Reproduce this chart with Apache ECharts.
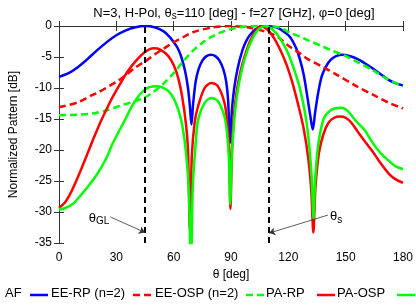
<!DOCTYPE html>
<html><head><meta charset="utf-8">
<script src="https://cdn.jsdelivr.net/npm/echarts@6/dist/echarts.min.js"></script>
<style>html,body{margin:0;padding:0;background:#fff}#c{width:416px;height:306px}</style>
</head><body><div id="c"></div>
<script>
// ---- data (theta in deg, pattern in dB) ----
const afTheta = [0,5,10,15,20,25,30,35,40,45,50,55,58,60,62,64,66,67.5,68.5,69.3,70.2,71.5,73,75,77,79.5,82,84,86,87.5,88.5,89.5,90.5,91.7,93.5,96,98,100,103,106,109,112,115,118,121,124,126,128,130,131.5,132.8,134,135.5,137.5,140,142,145,148.5,152,156,160,164,168,172,176,180];
const afDb    = [-8.2,-7.6,-6.6,-5.3,-3.9,-2.6,-1.5,-0.7,-0.2,0,-0.2,-0.9,-1.8,-2.6,-3.5,-5.0,-7.3,-10,-13,-15.9,-12.5,-9,-7,-5.6,-4.9,-4.65,-4.9,-5.6,-7,-9,-12,-18.8,-13.5,-10,-6.8,-3.9,-2.4,-1.4,-0.5,-0.1,0,-0.1,-0.4,-1.0,-1.8,-3.5,-5.3,-7.8,-11.5,-14.5,-16.7,-14,-11,-8.1,-6.4,-5.5,-4.85,-4.65,-4.85,-5.3,-6,-6.8,-7.7,-8.6,-9.2,-9.6];

const eeRpTheta = [0,10,17.6,20,30,33,40,46,50,55,60,65,70,80,90,100,110,115,121,126,130,138,145,155.6,165,172,180];
const eeRpDb    = [-13.1,-12.3,-11.1,-10.8,-9.0,-8.4,-6.7,-5.5,-4.6,-3.6,-2.6,-1.8,-1.0,-0.25,0,-0.3,-1.1,-1.9,-3.4,-4.4,-5.3,-6.6,-7.8,-9.7,-11.2,-12.3,-13.3];

const eeOspTheta = [0,10,17.6,25,31.6,38,45,50,55,60,65,70,75,80,85,90,95,100,105,110,115,121,126,131,138,143,148.6,156,164,172,180];
const eeOspDb    = [-14.4,-14.3,-14.1,-13.6,-12.9,-12.3,-11.5,-10.5,-9.2,-7.6,-5.7,-4.0,-2.7,-1.7,-1.0,-0.5,-0.2,-0.05,0,0,-0.2,-1.1,-1.7,-2.4,-3.3,-4.0,-4.65,-5.8,-7.1,-8.6,-9.7];

const paRpTheta = [0,3,6,9,12,15,18,21,24,27,30,33,36,40,45,49.5,53,57.3,60,62.4,64.5,66.5,67.5,68.5,69.5,71,72.8,76.2,79.7,83.1,86.6,88,89,89.7,90.5,91.5,93,95,97,99,101,103,105.5,108,110,113,116,119,122,125,128,130.5,132,133.1,134.2,136,138.3,141,144,147,150,153,156,160,164,168,172.8,176,180];
const paRpDb    = [-29.3,-28.5,-27.0,-25.0,-22.8,-20.5,-18.2,-16.0,-14.0,-12.1,-10.4,-8.8,-7.3,-5.7,-4.2,-3.6,-3.8,-4.9,-6.3,-8.4,-11.5,-16,-20,-33,-21,-15.5,-12.9,-10.0,-9.2,-9.7,-12.4,-15.5,-20,-29.5,-20,-14.5,-10.5,-7.3,-5.0,-3.2,-1.8,-0.8,0,-0.3,-0.9,-2.2,-4.0,-6.2,-9.0,-12.5,-16.5,-21.5,-26.5,-33.3,-26,-20.5,-17.5,-15.6,-14.8,-14.6,-14.8,-15.6,-16.9,-18.6,-20.2,-22.0,-23.9,-24.7,-25.3];

const paOspTheta = [0,3,7.2,10,14.1,19.3,24.5,28,31,34.8,38,41.7,44,46.9,51.2,54,57.3,60,62.4,64.5,66.5,68,69,70,71.5,72.8,76.2,79.7,83.1,86.6,88,89,89.6,90.3,91.5,93,95,97,99,101,103,105,108,111,114,117,120,123,126,129,131,132.3,133.2,134,135.5,138.3,141,144,147.8,151,155.6,160,164,168,172.8,176,180];
const paOspDb    = [-29.6,-29.4,-28.7,-27.8,-26.3,-24.2,-21.5,-19.0,-17.2,-15.0,-13.0,-11.3,-10.5,-9.9,-9.7,-9.9,-10.5,-11.7,-13.5,-16,-20.5,-27,-40,-26,-19,-15.1,-12.4,-11.6,-12.1,-14.6,-17.5,-22,-28.7,-22,-16,-11.5,-8.0,-5.5,-3.6,-2.2,-1.1,-0.4,0,-0.4,-1.3,-2.7,-4.5,-7.0,-10.0,-14.5,-19.5,-25,-31.1,-25,-19.5,-15.1,-13.9,-13.3,-13.2,-13.7,-15.4,-16.8,-18.8,-20.4,-21.8,-22.6,-23.1];

const seriesNames = ['AF','EE-RP (n=2)','EE-OSP (n=2)','PA-RP','PA-OSP'];
const markerTheta = [45,110];        // theta_GL and theta_s
const xTicks = {min:0,max:180,step:30};
const yTicks = {min:-35,max:0,step:5};

const pairs = (t,v)=>t.map((x,i)=>[x,v[i]]);
const font = 'Liberation Sans, Arial, Helvetica, sans-serif';
const colors = ['#0000ff','#ff0000','#00ff00','#ff0000','#00ff00'];
const dashes = [null,[7,4],[7,4],null,null];

// legend layout (text left x, sample line x1..x2)
const legendLayout = [
  {tx:5,  l1:30,  l2:48},
  {tx:51, l1:133, l2:153},
  {tx:155,l1:246, l2:264},
  {tx:266,l1:317, l2:335},
  {tx:337,l1:397, l2:415}
];
const legendY = 295;
const legendGraphics = [];
seriesNames.forEach((n,i)=>{
  const L = legendLayout[i];
  legendGraphics.push({type:'text',left:L.tx,top:legendY-8,silent:true,
    style:{text:n,fill:'#000',font:'13px '+font}});
  legendGraphics.push({type:'line',silent:true,
    shape:{x1:L.l1,y1:legendY,x2:L.l2,y2:legendY},
    style:{stroke:colors[i],lineWidth:2.5,lineDash:dashes[i]||null}});
});

const chart = echarts.init(document.getElementById('c'), null, {renderer:'canvas'});
const baseAxisLine = {show:true,lineStyle:{color:'#333',width:1}};
const tick = {inside:true,length:5,lineStyle:{color:'#333'}};
const mkSeries = (i,t,v,extra)=>Object.assign({
  name:seriesNames[i],type:'line',data:pairs(t,v),showSymbol:false,symbol:'none',smooth:0.3,
  lineStyle:{color:colors[i],width:2.5,type:dashes[i]||'solid'},itemStyle:{color:colors[i]}
},extra||{});

const option = {
  animation:false,
  backgroundColor:'#fff',
  textStyle:{fontFamily:font},
  title:{
    text:'N=3, H-Pol, θ{sub|s}=110 [deg] - f=27 [GHz], φ=0 [deg]',
    left:229, top:0, textAlign:'center',
    textStyle:{fontFamily:font,fontSize:13,fontWeight:'normal',color:'#000',
      rich:{sub:{fontFamily:font,fontSize:10,verticalAlign:'bottom',padding:[6,0,0,0],color:'#000'}}}
  },
  grid:{left:56,right:13,top:26,bottom:63,show:false},
  graphic:legendGraphics,
  xAxis:[{
    type:'value', min:xTicks.min, max:xTicks.max, interval:xTicks.step,
    axisLine:baseAxisLine, splitLine:{show:false}, axisTick:tick,
    axisLabel:{fontFamily:font,fontSize:12,color:'#000',margin:9},
    name:'θ [deg]', nameLocation:'middle', nameGap:26,
    nameTextStyle:{fontFamily:font,fontSize:12,color:'#000'}
  },{
    type:'value', position:'top', min:xTicks.min, max:xTicks.max, interval:xTicks.step,
    axisLine:baseAxisLine, splitLine:{show:false}, axisTick:tick, axisLabel:{show:false}
  }],
  yAxis:[{
    type:'value', min:yTicks.min, max:yTicks.max, interval:yTicks.step,
    axisLine:baseAxisLine, splitLine:{show:false}, axisTick:tick,
    axisLabel:{fontFamily:font,fontSize:12,color:'#000',margin:7},
    name:'Normalized Pattern [dB]', nameLocation:'middle', nameGap:39,
    nameTextStyle:{fontFamily:font,fontSize:12,color:'#000'}
  },{
    type:'value', position:'right', min:yTicks.min, max:yTicks.max, interval:yTicks.step,
    axisLine:baseAxisLine, splitLine:{show:false}, axisTick:tick, axisLabel:{show:false}
  }],
  series:[
    mkSeries(0,afTheta,afDb,{
     markLine:{silent:true,symbol:'none',label:{show:false},
       lineStyle:{color:'#000',width:2,type:[6,4]},
       data:markerTheta.map(v=>({xAxis:v}))}}),
    mkSeries(1,eeRpTheta,eeRpDb),
    mkSeries(2,eeOspTheta,eeOspDb),
    mkSeries(3,paRpTheta,paRpDb),
    mkSeries(4,paOspTheta,paOspDb,{
     markLine:{silent:true,symbol:['none','arrow'],symbolSize:6,label:{show:false},
       lineStyle:{color:'#333',width:0.8,type:'solid'},
       data:[
         [{coord:[26.9,-30.8]},{coord:[45,-33.3]}],
         [{coord:[140.7,-30.5]},{coord:[110,-33.4]}]
       ]},
     markPoint:{silent:true,symbol:'circle',symbolSize:0,
       label:{show:true,position:'inside',color:'#000',fontFamily:font,fontSize:13,
         rich:{sub:{fontFamily:font,fontSize:10,verticalAlign:'bottom',padding:[7,0,0,0],color:'#000'}}},
       data:[
         {coord:[21,-31],value:0,label:{formatter:'θ{sub|GL}'}},
         {coord:[145,-30.7],value:0,label:{formatter:'θ{sub|s}'}}
       ]}})
  ]
};
chart.setOption(option);
</script></body></html>
